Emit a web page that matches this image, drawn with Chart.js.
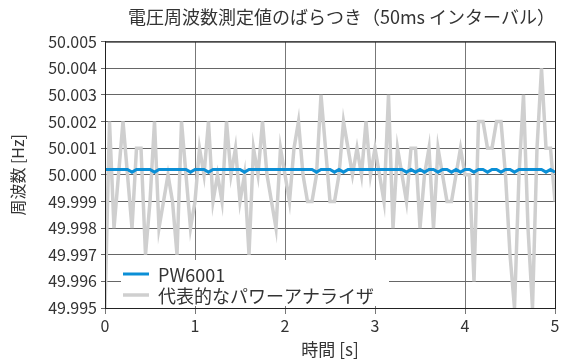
<!DOCTYPE html>
<html>
<head>
<meta charset="utf-8">
<script src="https://cdn.jsdelivr.net/npm/chart.js@4.4.1/dist/chart.umd.min.js"></script>
<style>
html, body { margin: 0; padding: 0; background: #fff; }
</style>
</head>
<body>
<canvas id="mycanvas" width="568" height="361"></canvas>
<script>
// chart texts
var chartTitle = '電圧周波数測定値のばらつき（50ms インターバル）';
var xTitle = '時間 [s]';
var yTitle = '周波数 [Hz]';
var seriesNames = ['PW6001', '代表的なパワーアナライザ'];

// tick labels
var xTicks = [0, 1, 2, 3, 4, 5];
var yTicks = [49.995, 49.996, 49.997, 49.998, 49.999, 50.000, 50.001, 50.002, 50.003, 50.004, 50.005];

// 50ms samples, 0 .. 5 s
var times = [];
for (var i = 0; i <= 100; i++) times.push(Math.round(i * 5) / 100);

// PW6001 readings
var pw6001 = [
    50.0002, 50.0002, 50.0002, 50.0002, 50.0002, 50.0002, 50.0001, 50.0002, 50.0002, 50.0002,
    50.0002, 50.0001, 50.0002, 50.0002, 50.0002, 50.0002, 50.0002, 50.0002, 50.0002, 50.0001,
    50.0002, 50.0002, 50.0002, 50.0001, 50.0002, 50.0002, 50.0002, 50.0002, 50.0002, 50.0002,
    50.0002, 50.0001, 50.0002, 50.0002, 50.0002, 50.0002, 50.0002, 50.0002, 50.0002, 50.0002,
    50.0002, 50.0002, 50.0002, 50.0002, 50.0002, 50.0002, 50.0002, 50.0001, 50.0002, 50.0002,
    50.0002, 50.0001, 50.0002, 50.0001, 50.0002, 50.0002, 50.0002, 50.0002, 50.0002, 50.0002,
    50.0002, 50.0002, 50.0002, 50.0002, 50.0002, 50.0002, 50.0002, 50.0001, 50.0002, 50.0001,
    50.0002, 50.0001, 50.0002, 50.0002, 50.0001, 50.0002, 50.0002, 50.0001, 50.0002, 50.0001,
    50.0002, 50.0002, 50.0001, 50.0002, 50.0002, 50.0001, 50.0002, 50.0002, 50.0001, 50.0002,
    50.0002, 50.0001, 50.0002, 50.0002, 50.0002, 50.0002, 50.0002, 50.0002, 50.0001, 50.0002,
    50.0001
];

// typical power analyzer readings
var typical = [
    49.995, 50.002, 49.998, 50.000, 50.002, 50.000, 49.998, 50.001, 50.001, 49.997,
    49.999, 50.002, 49.998, 49.999, 50.000, 49.999, 49.997, 50.002, 50.000, 49.998,
    49.999, 50.001, 50.000, 50.002, 49.999, 50.000, 49.999, 50.002, 50.000, 50.001,
    49.999, 50.000, 49.997, 50.001, 50.000, 50.002, 50.000, 49.999, 49.998, 50.001,
    50.000, 49.999, 50.001, 50.002, 50.000, 49.999, 49.999, 50.000, 50.003, 50.001,
    49.999, 49.999, 50.000, 50.002, 50.001, 50.000, 50.001, 50.000, 50.002, 50.000,
    50.001, 50.000, 49.999, 50.003, 49.998, 50.001, 50.000, 49.999, 50.001, 50.001,
    49.998, 50.000, 50.001, 49.998, 50.001, 50.000, 49.999, 49.999, 50.000, 50.001,
    50.000, 50.000, 49.996, 50.002, 50.002, 50.001, 50.001, 50.002, 50.002, 50.000,
    49.997, 49.995, 50.000, 50.003, 49.998, 49.995, 50.001, 50.004, 50.001, 50.001,
    49.999
];

var blue = '#0b8fd6';
var grey = '#cfcfcf';
var fontFamily = '"Noto Sans CJK JP", "Noto Sans", sans-serif';

function toPoints(values) {
    var pts = [];
    for (var i = 0; i < values.length; i++) {
        pts.push({ x: times[i], y: values[i] });
    }
    return pts;
}

// frame round the plot and legend box inside it
var framePlugin = {
    id: 'frameAndLegend',
    afterDatasetsDraw: function(chart) {
        var ctx = chart.ctx;
        var a = chart.chartArea;
        ctx.save();
        ctx.strokeStyle = '#222';
        ctx.lineWidth = 1;
        ctx.strokeRect(a.left + 0.5, a.top + 0.5, a.right - a.left, a.bottom - a.top);

        // legend
        var bx = a.left + 16, by = a.bottom - 48;
        ctx.fillStyle = '#fff';
        ctx.fillRect(bx, by, 268, 46);
        ctx.font = '18px ' + fontFamily;
        ctx.textBaseline = 'middle';
        chart.data.datasets.forEach(function(ds, k) {
            var y = by + 14 + k * 21;
            ctx.strokeStyle = ds.borderColor;
            ctx.lineWidth = ds.borderWidth;
            ctx.beginPath();
            ctx.moveTo(bx + 2, y);
            ctx.lineTo(bx + 28, y);
            ctx.stroke();
            ctx.fillStyle = '#333';
            ctx.fillText(ds.label, bx + 37, y + 1);
        });
        ctx.restore();
    }
};

var ctx = document.getElementById('mycanvas');
var chart = new Chart(ctx, {
    type: 'line',
    data: {
        datasets: [
            {
                label: seriesNames[0],
                data: toPoints(pw6001),
                borderColor: blue,
                borderWidth: 3,
                pointRadius: 0,
                order: 0
            },
            {
                label: seriesNames[1],
                data: toPoints(typical),
                borderColor: grey,
                borderWidth: 3.5,
                pointRadius: 0,
                order: 1
            }
        ]
    },
    options: {
        responsive: false,
        animation: false,
        layout: { padding: { left: 0, right: 13, top: 6, bottom: 0 } },
        plugins: {
            legend: { display: false },
            tooltip: { enabled: false },
            title: {
                display: true,
                text: chartTitle,
                align: 'end',
                color: '#333',
                font: { family: fontFamily, size: 18, weight: 'normal' },
                padding: { top: 0, bottom: 14 }
            }
        },
        scales: {
            x: {
                type: 'linear',
                min: 0,
                max: 5,
                afterBuildTicks: function(s) {
                    s.ticks = xTicks.map(function(v) { return { value: v }; });
                },
                ticks: { color: '#333', font: { family: fontFamily, size: 16 }, padding: 2, maxRotation: 0 },
                grid: { color: '#777', tickLength: 6 },
                border: { color: '#222' },
                title: {
                    display: true,
                    text: xTitle,
                    color: '#333',
                    font: { family: fontFamily, size: 17 },
                    padding: { top: 0, bottom: 1 }
                },
                afterFit: function(s) { s.height = 53; }
            },
            y: {
                min: 49.995,
                max: 50.005,
                afterBuildTicks: function(s) {
                    s.ticks = yTicks.map(function(v) { return { value: v }; });
                },
                ticks: {
                    color: '#333',
                    font: { family: fontFamily, size: 16 },
                    padding: 4,
                    callback: function(v) { return Number(v).toFixed(3); }
                },
                grid: { color: '#666', tickLength: 4 },
                border: { color: '#222' },
                title: {
                    display: true,
                    text: yTitle,
                    color: '#333',
                    font: { family: fontFamily, size: 16 },
                    padding: { top: 8, bottom: 0 }
                },
                afterFit: function(s) { s.width = 105; }
            }
        }
    },
    plugins: [framePlugin]
});
</script>
</body>
</html>
